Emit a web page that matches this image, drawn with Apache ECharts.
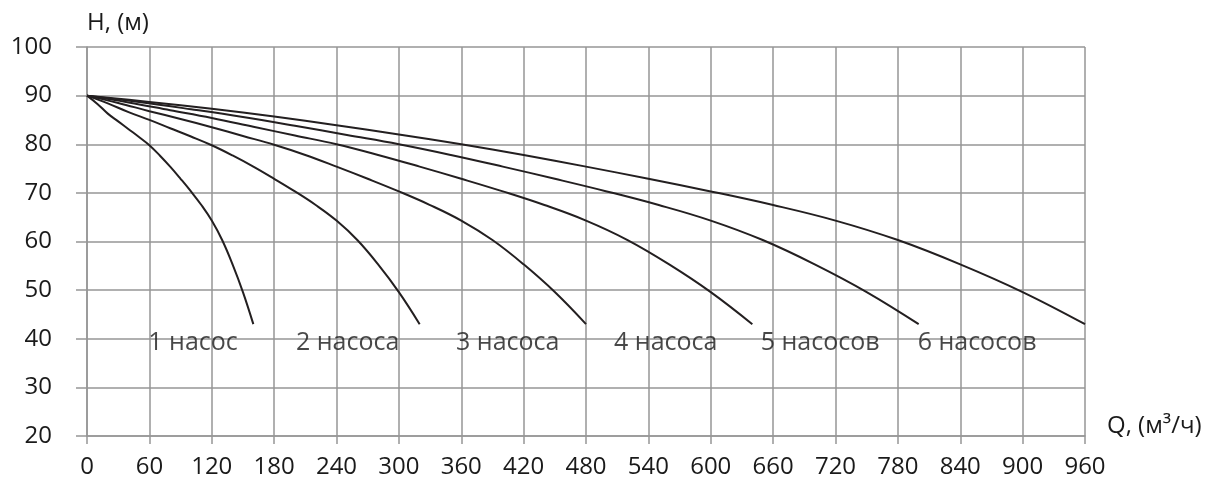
<!DOCTYPE html>
<html>
<head>
<meta charset="utf-8">
<script src="https://cdn.jsdelivr.net/npm/echarts@6/dist/echarts.min.js"></script>
<style>
html,body{margin:0;padding:0;background:#fff;}
#chart{width:1213px;height:479px;}
</style>
</head>
<body>
<div id="chart"></div>
<script>
// Data
const q1 = [0,10,20,30,40,50,60,70,80,90,100,110,120,130,140,150,160];
const h1 = [90,88.3,86.3,84.7,83.1,81.5,79.8,77.7,75.4,72.9,70.3,67.5,64.3,60.3,55.3,49.6,43];
const q2 = [0,20,40,60,80,100,120,140,160,180,200,220,240,260,280,300,320];
const h2 = [90,88.4,86.6,85.0,83.3,81.6,79.8,77.7,75.4,72.9,70.3,67.5,64.3,60.3,55.3,49.6,43];
const q3 = [0,30,60,90,120,150,180,210,240,270,300,330,360,390,420,450,480];
const h3 = [90,88.5,86.8,85.2,83.5,81.7,79.9,77.8,75.4,72.9,70.3,67.5,64.3,60.3,55.3,49.6,43];
const q4 = [0,40,80,120,160,200,240,280,320,360,400,440,480,520,560,600,640];
const h4 = [90,88.6,87.0,85.4,83.6,81.8,80.0,77.8,75.4,72.9,70.3,67.5,64.3,60.3,55.3,49.6,43];
const q5 = [0,50,100,150,200,250,300,350,400,450,500,550,600,650,700,750,800];
const h5 = [90,88.7,87.2,85.6,83.8,81.9,80.0,77.8,75.4,72.9,70.3,67.5,64.3,60.3,55.3,49.6,43];
const q6 = [0,60,120,180,240,300,360,420,480,540,600,660,720,780,840,900,960];
const h6 = [90,88.7,87.3,85.7,83.9,82.0,80.0,77.8,75.4,72.9,70.3,67.5,64.3,60.3,55.3,49.6,43];

const curveNames = ['1 насос','2 насоса','3 насоса','4 насоса','5 насосов','6 насосов'];
const labelQ = [59,201,355,507,648,799];
const labelH = [39.1,39.1,39.1,39.1,39.1,39.1];

const xTicks = {min:0, max:960, interval:60};
const yTicks = {min:20, max:100, interval:10};

const qs = [q1,q2,q3,q4,q5,q6];
const hs = [h1,h2,h3,h4,h5,h6];

const FONT = '"Open Sans", sans-serif';
const GRID = '#969696';
const TXT = '#1a1a1a';

const series = qs.map((q,i)=>({
  type:'line',
  name: curveNames[i],
  data: q.map((v,j)=>[v, hs[i][j]]),
  smooth: 0.4,
  symbol:'none',
  lineStyle:{color:'#231f20', width:2},
  z:5
}));
series.push({
  type:'scatter',
  symbolSize:0,
  data: labelQ.map((v,i)=>({value:[v,labelH[i]], name:curveNames[i]})),
  label:{show:true, position:'right', distance:0, formatter:p=>p.name,
         color:TXT, fontFamily:FONT, fontSize:25},
  z:6
});

const chart = echarts.init(document.getElementById('chart'), null, {renderer:'canvas'});
chart.setOption({
  animation:false,
  backgroundColor:'#fff',
  grid:{left:87, right:128, top:47, bottom:42, containLabel:false},
  xAxis:{
    type:'value', min:xTicks.min, max:xTicks.max, interval:xTicks.interval,
    name:'Q, (м³/ч)', nameLocation:'end', nameGap:22,
    nameTextStyle:{color:TXT, fontFamily:FONT, fontSize:24, verticalAlign:'bottom', lineHeight:20},
    axisLine:{show:true, lineStyle:{color:GRID, width:1.5}},
    axisTick:{show:true, length:8, lineStyle:{color:GRID, width:1.5}},
    axisLabel:{color:TXT, fontFamily:FONT, fontSize:24, margin:19},
    splitLine:{show:true, lineStyle:{color:GRID, width:1.5}}
  },
  yAxis:{
    type:'value', min:yTicks.min, max:yTicks.max, interval:yTicks.interval,
    name:'H, (м)', nameLocation:'end', nameGap:12,
    nameTextStyle:{color:TXT, fontFamily:FONT, fontSize:24, align:'left'},
    axisLine:{show:true, lineStyle:{color:GRID, width:1.5}},
    axisTick:{show:true, length:11, lineStyle:{color:GRID, width:1.5}},
    axisLabel:{color:TXT, fontFamily:FONT, fontSize:24, margin:35},
    splitLine:{show:true, lineStyle:{color:GRID, width:1.5}}
  },
  series: series
});
</script>
</body>
</html>
